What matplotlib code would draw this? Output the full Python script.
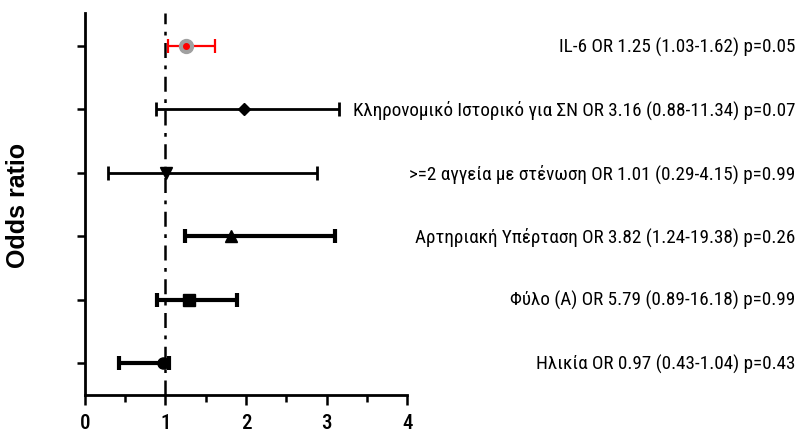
import numpy as np
import matplotlib.pyplot as plt
import matplotlib.transforms as mtransforms

fuente = ['Roboto Condensed', 'DejaVu Sans']

etiquetas = ['IL-6 OR 1.25 (1.03-1.62) p=0.05',
             'Κληρονομικό Ιστορικό για ΣΝ OR 3.16 (0.88-11.34) p=0.07',
             '>=2 αγγεία με στένωση OR 1.01 (0.29-4.15) p=0.99',
             'Αρτηριακή Υπέρταση OR 3.82 (1.24-19.38) p=0.26',
             'Φύλο (Α) OR 5.79 (0.89-16.18) p=0.99',
             'Ηλικία OR 0.97 (0.43-1.04) p=0.43']
# punto y limites del intervalo tal como se dibujan
punto = [1.25, 1.98, 1.01, 1.82, 1.29, 0.97]
inferior = [1.03, 0.88, 0.29, 1.24, 0.89, 0.43]
superior = [1.62, 3.16, 2.88, 3.10, 1.89, 1.05]
marcadores = ['o', 'D', 'v', '^', 's', 'o']
filas = [6, 5, 4, 3, 2, 1]
xticks = [0, 1, 2, 3, 4]

fig = plt.figure(figsize=(8, 4.39), dpi=100)
ax = fig.add_axes([0.106, 0.098, 0.403, 0.870])

ax.axvline(1, color='black', linestyle=(0, (6, 3, 1.5, 3)), linewidth=1.8, zorder=1)

for i in range(len(punto)):
    err = [[punto[i] - inferior[i]], [superior[i] - punto[i]]]
    if i == 0:
        ax.errorbar(punto[i], filas[i], xerr=err, color='red', linewidth=1.6,
                    capsize=5, capthick=1.6, fmt='none', zorder=2)
        ax.plot(punto[i], filas[i], 'o', markersize=10, color='#a0a0a0', zorder=3)
        ax.plot(punto[i], filas[i], 'o', markersize=4, color='red', zorder=4)
    else:
        lw = 2.0 if i < 3 else 3.0
        ms = 6 if marcadores[i] == 'D' else 8
        ax.errorbar(punto[i], filas[i], xerr=err, color='black', linewidth=lw,
                    capsize=5, capthick=lw, fmt=marcadores[i], markersize=ms,
                    markerfacecolor='black', markeredgecolor='black', zorder=2)

ax.set_xlim(0, 4)
ax.set_ylim(0.5, 6.52)
ax.set_xticks(xticks)
ax.set_xticklabels([str(t) for t in xticks], family=fuente, fontsize=15, fontweight='medium')
ax.set_xticks([0.5, 1.5, 2.5, 3.5], minor=True)
ax.set_yticks(filas)
ax.set_yticklabels([])
ax.tick_params(axis='x', which='major', length=7, width=1.8, pad=6)
ax.tick_params(axis='x', which='minor', length=5, width=1.8)
ax.tick_params(axis='y', length=6, width=1.8)
ax.spines['top'].set_visible(False)
ax.spines['right'].set_visible(False)
ax.spines['left'].set_linewidth(2)
ax.spines['bottom'].set_linewidth(2)

ax.set_ylabel('Odds ratio', fontsize=18, fontweight='bold',
              family=['Liberation Sans', 'DejaVu Sans'])
ax.yaxis.set_label_coords(-0.17, 0.5)

# textos a la derecha, alineados al borde de la figura
trans = mtransforms.blended_transform_factory(fig.transFigure, ax.transData)
for i in range(len(etiquetas)):
    ax.text(0.994, filas[i], etiquetas[i], transform=trans, ha='right', va='center',
            fontsize=13.8, family=fuente, clip_on=False)

plt.savefig('out.png', dpi=100)
